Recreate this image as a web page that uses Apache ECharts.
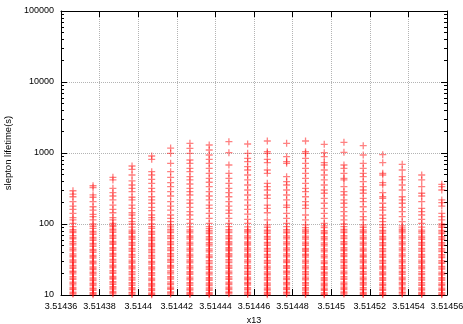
<!DOCTYPE html>
<html>
<head>
<meta charset="utf-8">
<script src="https://cdn.jsdelivr.net/npm/echarts@6/dist/echarts.min.js"></script>
<style>html,body{margin:0;padding:0;background:#fff}#c{width:463px;height:324px}</style>
</head>
<body>
<div id="c"></div>
<script>
// x13 position of each column
const xPositions = [3.5143662,3.5143766,3.5143869,3.5143968,3.514407,3.5144168,3.5144268,3.5144368,3.514447,3.5144567,
  3.5144669,3.5144769,3.5144867,3.5144964,3.5145066,3.5145166,3.5145267,3.5145368,3.5145469,3.5145573];

// slepton lifetime values (s) read per column
const col01 = [294,264,242,206,179,161,141,123,114,102,92, 10.3,11,11.9,12.8,13.9,15.2,16.6,18.1,19.9,21.6,23.8,26.1,28.7,31.3,34.6,38,41.8,46.2,50.9,56.3,62,68.4,75.6,83.5, 10.6,12.3,14.6,17.3,20.8,24.9,30,36.1,44,53.5,65,79];
const col02 = [346,325,257,238,206,175,157,137,127,114,100, 10.1,10.8,11.6,12.5,13.6,14.7,16,17.4,19.1,20.9,22.7,24.9,27.4,29.9,33,36.2,39.8,43.9,48.3,53.2,58.7,64.6,71.3,78.9,87, 10.5,12.1,14.2,16.7,20,23.8,28.6,34.6,42,50.7,61.6,75,93];
const col03 = [455,417,318,276,248,218,185,161,144,123,114,102,92, 10.4,11.2,12.1,13.1,14.1,15.4,16.8,18.3,20.1,22,24.1,26.3,28.9,31.8,35,38.4,42.4,46.6,51.5,56.7,62.6,69,76.3,84.4, 10.8,12.6,14.8,17.5,21,25.2,30.3,36.7,44.5,54,66,80.2,96];
const col04 = [656,589,490,404,354,318,285,238,218,185,166,144,134,120,108,100, 10.2,10.9,11.8,12.7,13.7,14.9,16.2,17.7,19.4,21.3,23.3,25.6,28.1,30.9,33.9,37.4,41.1,45.3,49.9,55.1,60.8,67.2,74.1,82,90.5, 10.6,12.2,14.3,16.9,20.3,24.4,29.4,35.6,43.1,52.4,64,77.8];
const col05 = [907,815,545,490,426,374,318,285,242,218,196,172,154,134,123,114,100, 10.1,10.7,11.5,12.4,13.4,14.6,15.9,17.3,18.9,20.7,22.6,24.8,27.2,29.8,32.8,36.1,39.7,43.8,48.2,53.1,58.5,64.5,71.2,78.6,86.8, 10.4,11.9,14,16.6,19.8,23.7,28.5,34.4,41.7,50.6,61.3,74.8,92];
const col06 = [1175,990,716,545,455,382,335,285,248,206,179,157,134,120,108,97, 10.3,11.1,12,12.9,14,15.3,16.7,18.2,19.9,21.8,23.9,26.2,28.8,31.6,34.8,38.3,42.1,46.4,51.1,56.4,62.2,68.7,75.8,83.7, 10.7,12.4,14.6,17.4,20.8,25,30.2,36.5,44.2,53.7,65.4,79.6,91];
const col07 = [1370,1165,990,797,716,609,545,464,417,366,318,285,256,218,196,172,149,134,116,102, 10.2,10.9,11.7,12.6,13.7,14.9,16.3,17.8,19.5,21.4,23.4,25.7,28.3,31.1,34.2,37.6,41.5,45.7,50.4,55.6,61.4,67.8,74.9,82.7,91, 10.5,12.1,14.3,17,20.4,24.5,29.6,35.8,43.5,52.9,64.5,78.6];
const col08 = [1297,1102,937,815,716,609,518,440,387,335,285,248,218,185,166,141,120,102,92, 10.1,10.8,11.6,12.6,13.6,14.8,16.1,17.6,19.2,21,23,25.2,27.7,30.4,33.5,36.8,40.5,44.7,49.3,54.4,60,66.3,73.2,80.9, 10.5,12.1,14.2,16.8,20.1,24.1,29,35.1,42.6,51.8,63.1,77,86];
const col09 = [1443,1009,678,518,440,374,318,276,242,206,179,157,141,120,102,92, 10.4,11.1,11.9,12.9,14,15.2,16.6,18.1,19.8,21.7,23.8,26.1,28.6,31.5,34.6,38.1,42,46.3,51,56.2,62,68.5,75.6,83.4, 10.8,12.4,14.6,17.3,20.7,24.9,30,36.3,44.1,53.6,65.2,79.4];
const col10 = [1340,990,842,754,641,576,490,417,354,301,256,218,185,161,138,116,102, 10.2,11,11.8,12.7,13.8,15,16.4,17.9,19.6,21.5,23.6,25.9,28.4,31.2,34.3,37.8,41.6,45.9,50.6,55.8,61.6,68,75.1,83, 10.6,12.2,14.4,17.1,20.5,24.7,29.8,36,43.7,53.1,64.8,79,91];
const col11 = [1476,1043,990,815,730,576,518,374,335,301,256,230,185,166,144,114,97, 10.1,10.9,11.7,12.6,13.6,14.8,16.2,17.7,19.3,21.2,23.2,25.5,28,30.8,33.9,37.3,41.1,45.3,49.9,55,60.7,67,74,81.7,90, 10.5,12.1,14.2,16.9,20.2,24.3,29.3,35.5,43.1,52.4,63.8,77.7];
const col12 = [1370,887,754,716,464,394,354,301,256,218,185,172,141,120,102, 10.3,11,11.9,12.8,13.9,15.1,16.5,18,19.7,21.6,23.7,26,28.5,31.3,34.5,37.9,41.8,46,50.8,56,61.8,68.2,75.3,83.2,92, 10.7,12.3,14.5,17.2,20.6,24.8,29.9,36.2,43.9,53.3,65,79.2];
const col13 = [1476,1043,990,842,716,609,518,440,374,318,285,242,206,185,166,134,114,97, 10.2,10.9,11.7,12.7,13.7,14.9,16.3,17.8,19.4,21.3,23.4,25.7,28.2,31,34.1,37.5,41.3,45.5,50.2,55.4,61.1,67.5,74.5,82.3, 10.6,12.2,14.3,17,20.3,24.5,29.6,35.8,43.4,52.8,64.3,78.3,89];
const col14 = [1326,1009,887,730,678,576,490,417,354,301,271,230,196,166,141,120,102, 10.1,10.8,11.6,12.5,13.5,14.7,16,17.5,19.1,20.9,22.9,25.1,27.6,30.3,33.4,36.8,40.5,44.6,49.2,54.3,59.9,66.1,73,80.6,89, 10.4,12,14.1,16.7,20,24,28.9,34.9,42.4,51.6,62.9,76.5,94];
const col15 = [1415,1023,678,609,518,440,417,335,285,256,218,196,172,149,130,114,100, 10.3,11.1,11.9,12.9,13.9,15.2,16.6,18.1,19.8,21.7,23.8,26.1,28.7,31.5,34.7,38.2,42,46.3,51.1,56.4,62.2,68.6,75.8,83.6,92, 10.7,12.4,14.5,17.3,20.7,24.9,30,36.3,44,53.6,65.3,79.5];
const col16 = [1268,937,716,609,518,464,394,335,301,271,230,206,175,149,127,114,97, 10.2,10.9,11.8,12.7,13.8,15,16.3,17.8,19.5,21.4,23.5,25.8,28.3,31.1,34.3,37.7,41.6,45.8,50.5,55.7,61.5,67.9,75,82.8, 10.5,12.1,14.3,17,20.3,24.4,29.5,35.7,43.4,52.8,64.4,78.4,90];
const col17 = [946,730,518,490,382,354,276,242,230,196,172,157,134,120,108,97, 10.1,10.8,11.6,12.6,13.6,14.8,16.1,17.6,19.3,21.1,23.2,25.4,27.9,30.7,33.8,37.2,40.9,45.1,49.7,54.8,60.5,66.8,73.7,81.4,89.8, 10.4,12,14.1,16.8,20.1,24.2,29.2,35.3,42.9,52.1,63.5,77.3];
const col18 = [693,576,464,417,354,301,242,218,196,172,149,127,108,94, 10.3,11,11.8,12.8,13.9,15.1,16.4,17.9,19.6,21.5,23.6,25.9,28.4,31.3,34.4,37.9,41.7,46,50.7,55.9,61.7,68.1,75.2,83, 10.7,12.3,14.5,17.2,20.6,24.7,29.8,36.1,43.8,53.2,64.8,79,88];
const col19 = [490,417,335,271,248,206,166,149,134,116,102, 10.2,10.9,11.7,12.6,13.7,14.9,16.2,17.7,19.4,21.3,23.3,25.6,28.1,30.9,34,37.4,41.2,45.4,50,55.2,60.9,67.3,74.3,82,90.5, 10.5,12.1,14.2,16.9,20.2,24.3,29.4,35.6,43.2,52.5,64,78];
const col20 = [362,335,301,218,200,179,141,127,114,100, 10.1,10.8,11.6,12.5,13.6,14.8,16.1,17.5,19.2,21,23.1,25.3,27.8,30.5,33.6,37,40.7,44.9,49.5,54.6,60.2,66.5,73.4,81.1,89.5, 10.4,12,14.1,16.7,20,24.1,29.1,35.2,42.8,52,63.3,77.1,94];
const columns = [col01,col02,col03,col04,col05,col06,col07,col08,col09,col10,col11,col12,col13,col14,col15,col16,col17,col18,col19,col20];

const xMin = 3.51436, xMax = 3.51456, xStep = 0.00002;
const yMin = 10, yMax = 100000;
const yMinorTicks = [20,30,40,50,60,70,80,90,200,300,400,500,600,700,800,900,
  2000,3000,4000,5000,6000,7000,8000,9000,20000,30000,40000,50000,60000,70000,80000,90000];

const points = [];
columns.forEach((vals, k) => vals.forEach(v => points.push([xPositions[k], v])));

const font = '"Liberation Sans", Arial, Helvetica, sans-serif';
const plus = 'path://M2.85,0h1.3v2.85h2.85v1.3h-2.85v2.85h-1.3v-2.85h-2.85v-1.3h2.85z';
const gridLine = {show: true, lineStyle: {color: '#b4b4b4', type: 'dotted', width: 1}};
const axisLineBlack = {show: true, onZero: false, lineStyle: {color: '#000', width: 1}};
const gridRect = {left: 61, right: 16, top: 11, bottom: 29, containLabel: false, outerBoundsMode: 'none'};

const chart = echarts.init(document.getElementById('c'), null, {renderer: 'canvas'});
chart.setOption({
  animation: false,
  grid: [Object.assign({}, gridRect), Object.assign({}, gridRect)],
  xAxis: [{
    gridIndex: 0, type: 'value', min: xMin, max: xMax, interval: xStep, position: 'bottom',
    name: 'x13', nameLocation: 'middle', nameGap: 19,
    nameTextStyle: {fontSize: 9, color: '#000', fontFamily: font},
    axisLine: axisLineBlack,
    axisTick: {show: true, inside: true, length: 6, lineStyle: {color: '#000'}},
    axisLabel: {fontSize: 9, color: '#000', fontFamily: font, margin: 7, showMinLabel: true, showMaxLabel: true,
      formatter: v => String(parseFloat(v.toFixed(5)))},
    splitLine: gridLine
  }, {
    gridIndex: 0, type: 'value', min: xMin, max: xMax, interval: xStep, position: 'top',
    axisLine: axisLineBlack,
    axisTick: {show: true, inside: true, length: 6, lineStyle: {color: '#000'}},
    axisLabel: {show: false}, splitLine: {show: false}
  }, {
    gridIndex: 1, type: 'value', min: xMin, max: xMax, show: false
  }],
  yAxis: [{
    gridIndex: 0, type: 'log', logBase: 10, min: yMin, max: yMax, position: 'left',
    name: 'slepton lifetime(s)', nameLocation: 'middle', nameGap: 44,
    nameTextStyle: {fontSize: 9.5, color: '#000', fontFamily: font},
    axisLine: axisLineBlack,
    axisTick: {show: true, inside: true, length: 6, lineStyle: {color: '#000'}},
    axisLabel: {fontSize: 9, color: '#000', fontFamily: font, margin: 7, showMinLabel: true, showMaxLabel: true,
      formatter: v => String(v)},
    splitLine: gridLine
  }, {
    gridIndex: 0, type: 'log', logBase: 10, min: yMin, max: yMax, position: 'right',
    axisLine: axisLineBlack,
    axisTick: {show: true, inside: true, length: 6, lineStyle: {color: '#000'}},
    axisLabel: {show: false}, splitLine: {show: false}
  }, {
    gridIndex: 1, type: 'log', logBase: 10, min: yMin, max: yMax, position: 'left',
    axisLine: {show: false},
    axisTick: {show: true, inside: true, length: 3, customValues: yMinorTicks, lineStyle: {color: '#000'}},
    axisLabel: {show: false, customValues: yMinorTicks}, splitLine: {show: false}
  }, {
    gridIndex: 1, type: 'log', logBase: 10, min: yMin, max: yMax, position: 'right',
    axisLine: {show: false},
    axisTick: {show: true, inside: true, length: 3, customValues: yMinorTicks, lineStyle: {color: '#000'}},
    axisLabel: {show: false, customValues: yMinorTicks}, splitLine: {show: false}
  }],
  series: [{
    type: 'scatter', xAxisIndex: 0, yAxisIndex: 0,
    data: points, symbol: plus, symbolSize: 7,
    itemStyle: {color: 'rgba(255,0,0,0.62)'}
  }]
});
</script>
</body>
</html>
